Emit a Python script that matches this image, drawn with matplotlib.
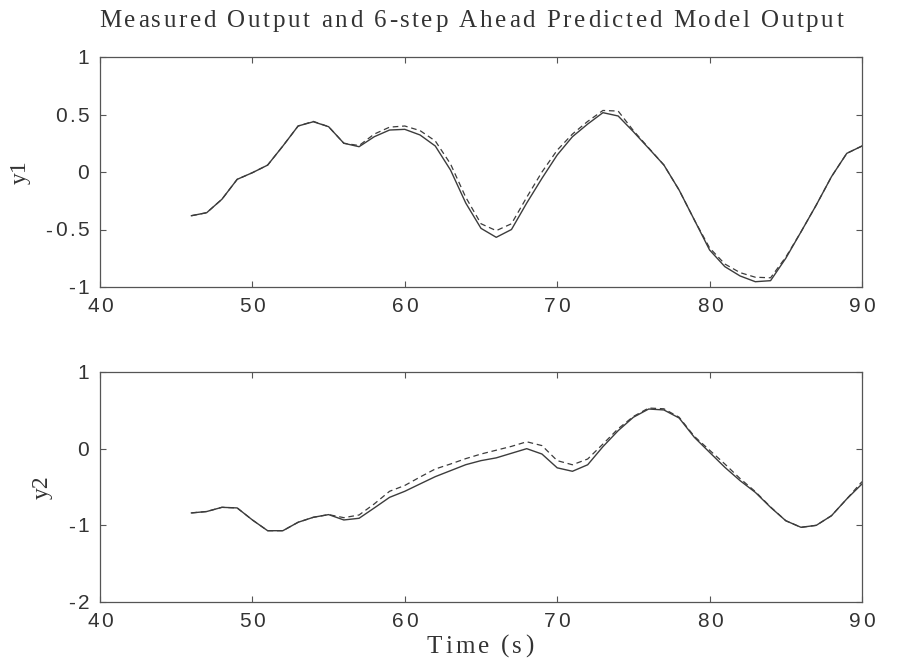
'''Measured vs 6-step ahead predicted model output, two outputs'''
import matplotlib
matplotlib.use('Agg')
import matplotlib.pyplot as plt

time_s = list(range(46, 91))

y1_measured = [-0.38, -0.354, -0.237, -0.064, -0.006, 0.06, 0.226, 0.40, 0.437, 0.394,
               0.25, 0.22, 0.307, 0.365, 0.371, 0.322, 0.226, 0.017, -0.27, -0.49,
               -0.568, -0.50, -0.27, -0.055, 0.148, 0.307, 0.417, 0.516, 0.487, 0.35,
               0.206, 0.061, -0.157, -0.417, -0.678, -0.823, -0.904, -0.954, -0.945, -0.75,
               -0.52, -0.287, -0.04, 0.162, 0.226]
y1_predicted = [-0.38, -0.354, -0.237, -0.064, -0.006, 0.06, 0.226, 0.40, 0.44, 0.394,
                0.25, 0.23, 0.33, 0.39, 0.40, 0.36, 0.27, 0.07, -0.22, -0.45,
                -0.51, -0.45, -0.22, 0.0, 0.19, 0.33, 0.44, 0.535, 0.53, 0.36,
                0.21, 0.061, -0.157, -0.417, -0.66, -0.80, -0.875, -0.915, -0.92, -0.74,
                -0.52, -0.287, -0.04, 0.162, 0.226]

y2_measured = [-0.838, -0.82, -0.765, -0.773, -0.93, -1.07, -1.07, -0.96, -0.895, -0.86,
               -0.93, -0.908, -0.773, -0.635, -0.556, -0.46, -0.365, -0.287, -0.209, -0.156,
               -0.12, -0.06, 0.0, -0.07, -0.25, -0.295, -0.21, 0.026, 0.235, 0.41,
               0.517, 0.505, 0.40, 0.148, -0.048, -0.243, -0.417, -0.57, -0.765, -0.94,
               -1.026, -1.0, -0.874, -0.656, -0.46]
y2_predicted = [-0.838, -0.82, -0.765, -0.773, -0.93, -1.07, -1.07, -0.96, -0.895, -0.86,
                -0.90, -0.865, -0.72, -0.556, -0.48, -0.37, -0.265, -0.20, -0.13, -0.07,
                -0.02, 0.03, 0.09, 0.04, -0.156, -0.21, -0.135, 0.06, 0.26, 0.42,
                0.53, 0.52, 0.41, 0.16, -0.02, -0.20, -0.39, -0.56, -0.76, -0.94,
                -1.026, -1.0, -0.874, -0.656, -0.43]

x_ticks = [40, 50, 60, 70, 80, 90]
x_tick_labels = ['40', '50', '60', '70', '80', '90']
y1_ticks = [-1, -0.5, 0, 0.5, 1]
y1_tick_labels = ['-1', '-0.5', '0', '0.5', '1']
y2_ticks = [-2, -1, 0, 1]
y2_tick_labels = ['-2', '-1', '0', '1']

title = 'Measured Output and 6-step Ahead Predicted Model Output'
xlabel = 'Time (s)'

LINE = '#3c3c3c'
TEXT = '#333333'
SERIF = 'Liberation Serif'
SANS = 'Liberation Sans'
W, H = 913, 670
TICK_SIZE, TICK_TRACK = 15, 2.5

fig = plt.figure(figsize=(W / 100, H / 100), dpi=100)
renderer = fig.canvas.get_renderer()


def advance(ch, size, family):
    '''Horizontal advance of one character, in pixels'''
    def width(s):
        t = fig.text(0, 0, s, fontsize=size, family=family)
        w = t.get_window_extent(renderer).width
        t.remove()
        return w
    return width('x' + ch + 'x') - width('xx')


def tracked_width(s, size, family, track):
    return sum(advance(c, size, family) for c in s) + track * (len(s) - 1)


def tracked_text(x, y, s, size, family, track, ha='left'):
    '''Letter-spaced text; x, y in pixels from bottom-left, y is the baseline'''
    total = tracked_width(s, size, family, track)
    if ha == 'center':
        x -= total / 2
    elif ha == 'right':
        x -= total
    for c in s:
        fig.text(x / W, y / H, c, fontsize=size, family=family, color=TEXT,
                 ha='left', va='baseline')
        x += advance(c, size, family) + track


def style_axes(ax, yticks, ylabels, ylim, name):
    '''MATLAB-like boxed axes with inward ticks on all sides'''
    ax.set_xlim(40, 90)
    ax.set_ylim(*ylim)
    ax.set_xticks(x_ticks)
    ax.set_yticks(yticks)
    ax.tick_params(direction='in', length=4, width=0.8, color='#555555',
                   top=True, right=True, labelbottom=False, labelleft=False)
    for spine in ax.spines.values():
        spine.set_color('#555555')
        spine.set_linewidth(0.9)
    # tick labels drawn by hand so they can be letter-spaced like the original
    left_px, bottom_px = ax.transAxes.transform((0, 0))
    for val, lab in zip(yticks, ylabels):
        ypx = ax.transData.transform((40, val))[1]
        tracked_text(left_px - 11, ypx - 7, lab, TICK_SIZE, SANS, TICK_TRACK, ha='right')
    for val, lab in zip(x_ticks, x_tick_labels):
        xpx = ax.transData.transform((val, 0))[0]
        tracked_text(xpx, bottom_px - 25, lab, TICK_SIZE, SANS, TICK_TRACK, ha='center')
    widest = max(tracked_width(lab, TICK_SIZE, SANS, TICK_TRACK) for lab in ylabels)
    label_x = left_px - 11 - widest - 15
    ymid = ax.transAxes.transform((0, 0.5))[1]
    fig.text(label_x / W, ymid / H, name, fontsize=17, family=SERIF, color=TEXT,
             rotation=90, ha='right', va='center')


ax1 = fig.add_axes([100 / W, 1 - 287 / H, 762 / W, 230 / H])
ax2 = fig.add_axes([100 / W, 1 - 602 / H, 762 / W, 230 / H])

ax1.plot(time_s, y1_measured, color=LINE, linewidth=1.0)
ax1.plot(time_s, y1_predicted, color=LINE, linewidth=0.9, linestyle=(0, (4.5, 3)))
style_axes(ax1, y1_ticks, y1_tick_labels, (-1, 1), 'y1')

ax2.plot(time_s, y2_measured, color=LINE, linewidth=1.0)
ax2.plot(time_s, y2_predicted, color=LINE, linewidth=0.9, linestyle=(0, (4.5, 3)))
style_axes(ax2, y2_ticks, y2_tick_labels, (-2, 1), 'y2')

tracked_text(471, H - 27, title, 18, SERIF, 2.6, ha='center')
tracked_text(480, H - 653, xlabel, 18, SERIF, 3.0, ha='center')

fig.savefig('out.png', dpi=100, facecolor='white')
